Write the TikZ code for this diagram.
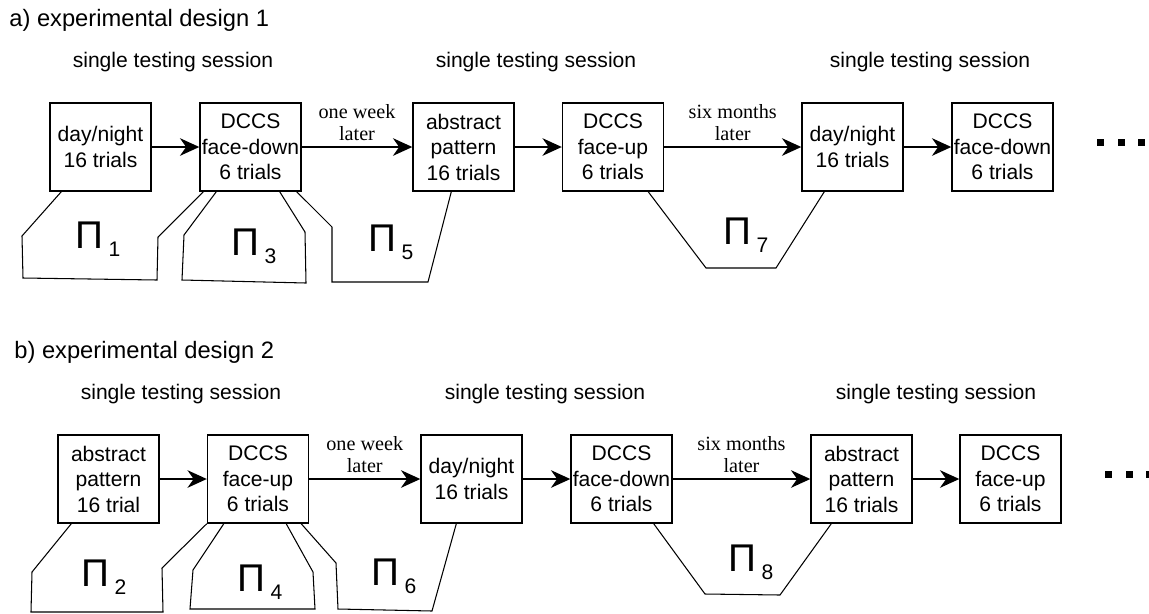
\documentclass[tikz,border=0pt]{standalone}
\usepackage{fontspec}
\setmainfont{Liberation Sans}
\newfontfamily\serifword{Liberation Serif}
\usetikzlibrary{arrows.meta,calc}
\newcommand{\pilab}[1]{{\fontsize{22}{22}\selectfont Π}\hspace{3pt}\raisebox{-5pt}{\fontsize{12}{12}\selectfont #1}}

\begin{document}
\begin{tikzpicture}[x=0.02cm,y=-0.02cm,>={Stealth[length=11pt,width=10pt,inset=3.5pt]},
  task/.style={draw,line width=0.8pt,minimum width=2.02cm,minimum height=1.76cm,inner sep=0,align=center,font=\fontsize{12}{14.5}\selectfont},
  later/.style={above,align=center,font=\serifword\fontsize{11.5}{12}\selectfont},
  title/.style={anchor=west,inner sep=0,font=\fontsize{13.5}{13.5}\selectfont},
  session/.style={font=\fontsize{12}{12}\selectfont},
  pi/.style={anchor=base west,inner sep=0}]
\useasboundingbox (0,0) rectangle (1149,613);

% a) design 1
\node (ta) at (9,20)[title]{a) experimental design 1};
\foreach \x [count=\i] in {173,536,930}
  \node (sa\i) at (\x,62)[session]{single testing session};
\node (a1) at (100.5,147)[task]{day/night\\16 trials};
\node (a2) at (250.5,147)[task]{DCCS\\face-down\\6 trials};
\node (a3) at (463.5,147)[task]{abstract\\pattern\\16 trials};
\node (a4) at (613,147)[task]{DCCS\\face-up\\6 trials};
\node (a5) at (852.5,147)[task]{day/night\\16 trials};
\node (a6) at (1002.5,147)[task]{DCCS\\face-down\\6 trials};

% b) design 2
\node (tb) at (14,352)[title]{b) experimental design 2};
\foreach \x [count=\i] in {181,545,936}
  \node (sb\i) at (\x,394)[session]{single testing session};
\node (b1) at (108.5,479)[task]{abstract\\pattern\\16 trial};
\node (b2) at (258,479)[task]{DCCS\\face-up\\6 trials};
\node (b3) at (471.5,479)[task]{day/night\\16 trials};
\node (b4) at (621.5,479)[task]{DCCS\\face-down\\6 trials};
\node (b5) at (861.5,479)[task]{abstract\\pattern\\16 trials};
\node (b6) at (1010.5,479)[task]{DCCS\\face-up\\6 trials};

\foreach \s/\t in {a1/a2,a3/a4,a5/a6,b1/b2,b3/b4,b5/b6}
  \draw[->,line width=1pt](\s)--(\t);
\draw[->,line width=1pt](a2)--node[later]{one week\\later}(a3);
\draw[->,line width=1pt](a4)--node[later]{six months\\later}(a5);
\draw[->,line width=1pt](b2)--node[later]{one week\\later}(b3);
\draw[->,line width=1pt](b4)--node[later]{six months\\later}(b5);

% the Pi groupings
\begin{scope}[line width=0.6pt]
\draw ($(a1.south west)+(12,0)$)--(22,236)--(23,278)--(157,280)--(158,237)--($(a2.south west)+(4,0)$);
\draw ($(a2.south west)+(17,0)$)--(184,235)--(182,280)--(306,283)--(305,232)--($(a2.south east)+(-22,0)$);
\draw ($(a2.south east)+(-5,0)$)--(332,227)--(332,282)--(428,282)--($(a3.south west)+(39,0)$);
\draw ($(a4.south east)+(-16,0)$)--(706,268)--(776,268)--($(a5.south west)+(23,0)$);
\draw ($(b1.south west)+(14,0)$)--(32,572)--(31,612)--(163,612)--(162,568)--(b2.south west);
\draw ($(b2.south west)+(17,0)$)--(193,570)--(190,609)--(315,609)--(313,572)--($(b2.south east)+(-23,0)$);
\draw ($(b2.south east)+(-8,0)$)--(336,563)--(338,609)--(432,611)--($(b3.south west)+(36,0)$);
\draw ($(b4.south east)+(-19,0)$)--(705,594)--(780,595)--($(b5.south west)+(21,0)$);
\end{scope}
\node (p1) at (75,248)[pi]{\pilab{1}};
\node (p3) at (231,255)[pi]{\pilab{3}};
\node (p5) at (368,251)[pi]{\pilab{5}};
\node (p7) at (723,244)[pi]{\pilab{7}};
\node (p2) at (81,586)[pi]{\pilab{2}};
\node (p4) at (237,591)[pi]{\pilab{4}};
\node (p6) at (371,585)[pi]{\pilab{6}};
\node (p8) at (728,571)[pi]{\pilab{8}};

% continuation dots
\foreach \y/\x in {142.5/1100.5,474.5/1108.5}
  \foreach \k in {0,1,2}
    \fill (\x+20.7*\k-3.5,\y-3.5) rectangle ++(7,7);
\end{tikzpicture}
\end{document}
